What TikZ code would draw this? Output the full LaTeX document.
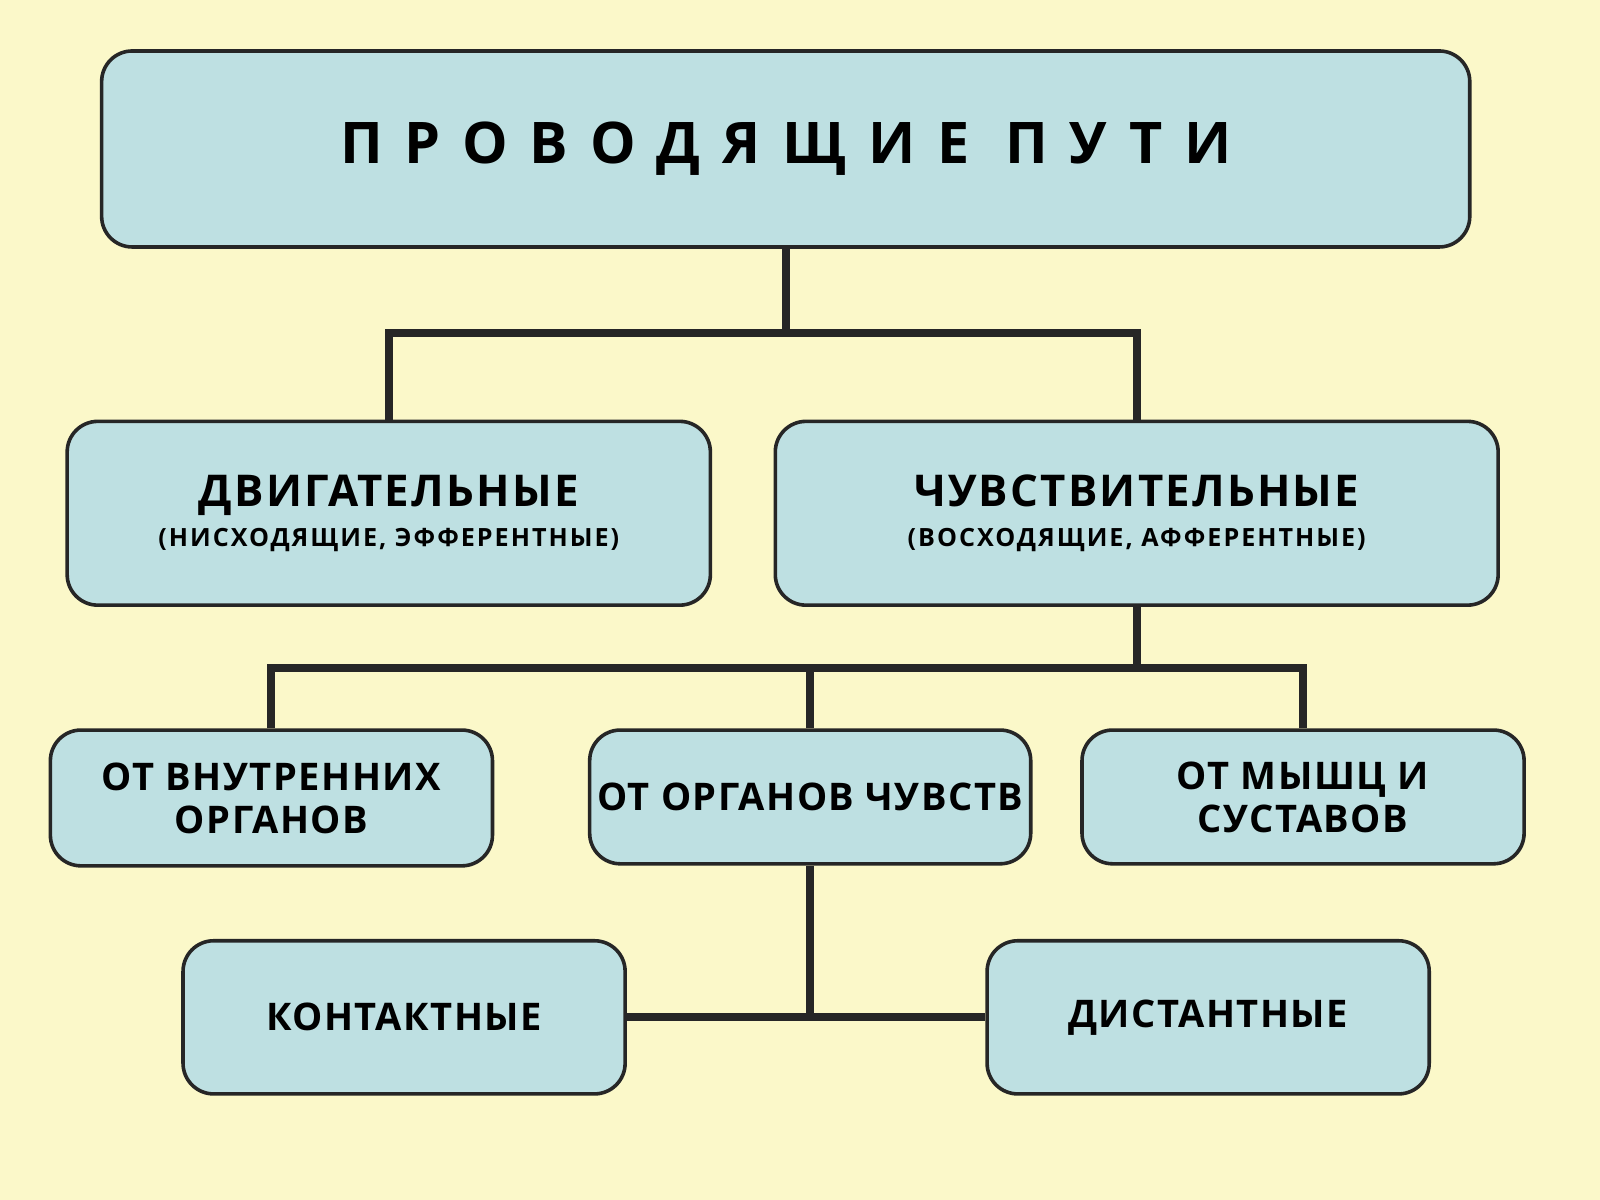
\documentclass[tikz,border=0pt]{standalone}
\usepackage{fontspec}
\setmainfont{Open Sans}
\begin{document}
\begin{tikzpicture}[x=0.01cm,y=-0.01cm,
 box/.style={draw=black!85,line width=1pt,fill=boxc,rounded corners=0.3cm,inner sep=0pt,align=center,font=\bfseries},
 sm/.style={font=\bfseries\fontsize{10.6}{12}\selectfont\addfontfeature{LetterSpace=4}},
 ln/.style={line width=2.2pt,black!85}]
\definecolor{boxc}{HTML}{BEE0E2}
\definecolor{bg}{HTML}{FBF8C9}
\fill[bg] (0,0) rectangle (1568,1176);
\useasboundingbox (0,0) rectangle (1568,1176);
\node[box,minimum width=13.4cm,minimum height=1.92cm,font=\bfseries\fontsize{16}{19}\selectfont\addfontfeature{LetterSpace=38}] (top) at (770,146) {ПРОВОДЯЩИЕ\hspace{0.35cm}ПУТИ};
\node[box,minimum width=6.3cm,minimum height=1.8cm] (mot) at (381,503) {{\fontsize{12.2}{14}\selectfont\addfontfeature{LetterSpace=5}ДВИГАТЕЛЬНЫЕ}\\[-1pt]{\fontsize{7}{9}\selectfont\addfontfeature{LetterSpace=8}(НИСХОДЯЩИЕ, ЭФФЕРЕНТНЫЕ)}};
\node[box,minimum width=7.08cm,minimum height=1.8cm] (sen) at (1114,503) {{\fontsize{12.2}{14}\selectfont\addfontfeature{LetterSpace=5}ЧУВСТВИТЕЛЬНЫЕ}\\[-1pt]{\fontsize{7}{9}\selectfont\addfontfeature{LetterSpace=8}(ВОСХОДЯЩИЕ, АФФЕРЕНТНЫЕ)}};
\node[box,sm,minimum width=4.33cm,minimum height=1.33cm] (int) at (266,782) {ОТ ВНУТРЕННИХ\\ОРГАНОВ};
\node[box,sm,minimum width=4.32cm,minimum height=1.31cm] (org) at (794,781) {ОТ ОРГАНОВ ЧУВСТВ};
\node[box,sm,minimum width=4.33cm,minimum height=1.31cm] (mus) at (1277,781) {ОТ МЫШЦ И\\СУСТАВОВ};
\node[box,sm,minimum width=4.33cm,minimum height=1.5cm] (con) at (396,997) {КОНТАКТНЫЕ};
\node[box,sm,minimum width=4.33cm,minimum height=1.5cm] (dis) at (1184,997) {ДИСТАНТНЫЕ};
\coordinate (j1) at (770,326);
\coordinate (j2) at (1114,655);
\coordinate (j3) at (794,997);
\draw[ln] (top.south) -- (j1);
\draw[ln] (mot.north) |- (j1) -| (sen.north);
\draw[ln] (sen.south) -- (j2);
\draw[ln] (int.north) |- (j2) -| (mus.north);
\draw[ln] (org.north) -- (org.north |- j2);
\draw[ln] (org.south) -- (j3);
\draw[ln] (con.east) -- (dis.west);
\end{tikzpicture}
\end{document}
